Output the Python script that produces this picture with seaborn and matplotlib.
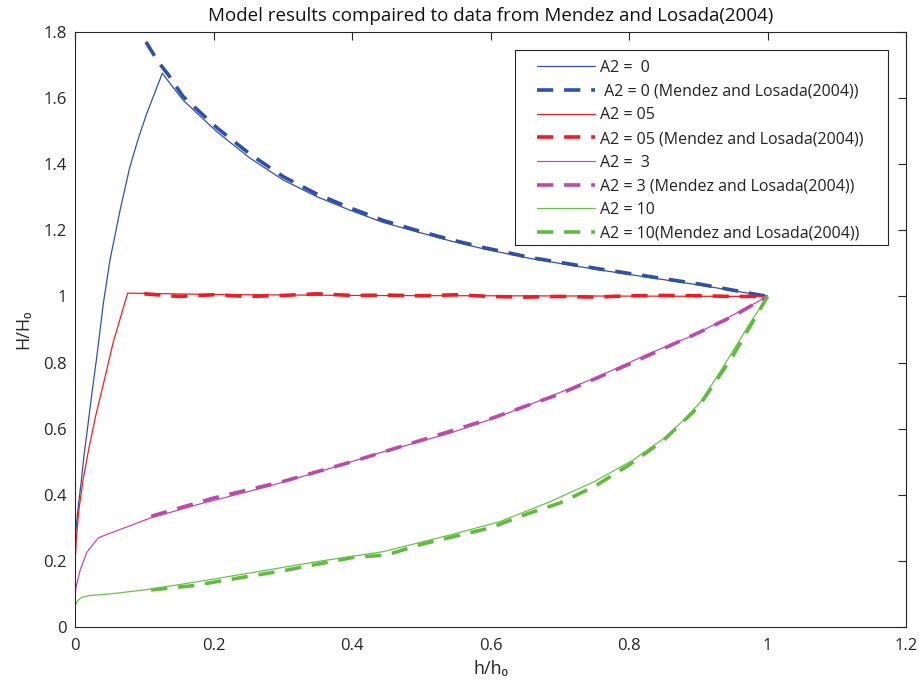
import matplotlib
matplotlib.use("Agg")
import matplotlib.pyplot as plt
from matplotlib.patches import Rectangle
import seaborn as sns
import pandas as pd

# ---- data ----
blue_model_x = [0, 0.002, 0.005, 0.009, 0.013, 0.018, 0.024, 0.031, 0.041, 0.0505, 0.065, 0.079,
                0.091, 0.103, 0.115, 0.126, 0.156, 0.205, 0.253, 0.301, 0.349, 0.397, 0.445,
                0.493, 0.542, 0.59, 0.657, 0.758, 0.903, 1.0]
blue_model_y = [0.26, 0.31, 0.37, 0.44, 0.52, 0.6, 0.7, 0.81, 0.98, 1.11, 1.26, 1.39,
                1.475, 1.55, 1.615, 1.675, 1.594, 1.498, 1.418, 1.352, 1.302, 1.261, 1.224,
                1.196, 1.168, 1.144, 1.115, 1.08, 1.034, 1.0]
blue_data_x = [0.1025, 0.12, 0.135, 0.156, 0.205, 0.253, 0.301, 0.349, 0.397, 0.445, 0.493, 0.542,
               0.59, 0.657, 0.758, 0.903, 1.0]
blue_data_y = [1.77, 1.71, 1.67, 1.605, 1.51, 1.43, 1.362, 1.31, 1.268, 1.23, 1.2, 1.172,
               1.148, 1.118, 1.083, 1.037, 1.0]

red_model_x = [0, 0.002, 0.006, 0.012, 0.02, 0.03, 0.041, 0.055, 0.076, 0.2, 0.4, 0.6, 0.8, 1.0]
red_model_y = [0.19, 0.27, 0.36, 0.45, 0.54, 0.64, 0.735, 0.86, 1.01, 1.006, 1.003, 1.002, 1.001, 1.0]
red_data_x = [0.1, 0.15, 0.2, 0.25, 0.3, 0.35, 0.4, 0.45, 0.5, 0.55, 0.6, 0.65, 0.7, 0.75,
              0.8, 0.85, 0.9, 0.95, 1.0]
red_data_y = [1.008, 1.0, 1.005, 1.0, 1.003, 1.008, 1.003, 1.004, 1.002, 1.005, 1.0, 0.998,
              1.0, 0.998, 1.002, 1.003, 1.002, 1.0, 1.0]

mag_model_x = [0, 0.0014, 0.0072, 0.0168, 0.0337, 0.108, 0.18, 0.277, 0.361, 0.445, 0.541, 0.614,
               0.686, 0.758, 0.830, 0.89, 0.946, 1.0]
mag_model_y = [0.09, 0.12, 0.17, 0.225, 0.270, 0.329, 0.372, 0.424, 0.475, 0.530, 0.586, 0.638,
               0.697, 0.76, 0.828, 0.88, 0.939, 1.0]
mag_data_x = [0.11, 0.2, 0.3, 0.4, 0.5, 0.6, 0.7, 0.8, 0.9, 0.95, 1.0]
mag_data_y = [0.335, 0.39, 0.44, 0.5, 0.565, 0.63, 0.705, 0.795, 0.89, 0.94, 1.0]

green_model_x = [0, 0.004, 0.01, 0.02, 0.05, 0.1, 0.15, 0.2, 0.277, 0.35, 0.445, 0.541, 0.614,
                 0.686, 0.75, 0.806, 0.85, 0.879, 0.903, 0.927, 0.951, 0.975, 1.0]
green_model_y = [0.065, 0.08, 0.09, 0.095, 0.1, 0.112, 0.128, 0.145, 0.172, 0.198, 0.228, 0.278,
                 0.319, 0.379, 0.44, 0.505, 0.57, 0.626, 0.68, 0.757, 0.838, 0.92, 1.0]
green_data_x = [0.11, 0.17, 0.25, 0.3, 0.35, 0.4, 0.45, 0.5, 0.55, 0.6, 0.65, 0.7, 0.75, 0.8,
                0.85, 0.9, 0.95, 1.0]
green_data_y = [0.112, 0.125, 0.153, 0.17, 0.19, 0.21, 0.218, 0.25, 0.275, 0.3, 0.34, 0.375,
                0.425, 0.49, 0.565, 0.665, 0.82, 1.0]

labels = ["A2 =  0", " A2 = 0 (Mendez and Losada(2004))",
          "A2 = 05", "A2 = 05 (Mendez and Losada(2004))",
          "A2 =  3", "A2 = 3 (Mendez and Losada(2004))",
          "A2 = 10", "A2 = 10(Mendez and Losada(2004))"]

x_ticks = [0, 0.2, 0.4, 0.6, 0.8, 1.0, 1.2]
x_ticklabels = ["0", "0.2", "0.4", "0.6", "0.8", "1", "1.2"]
y_ticks = [0, 0.2, 0.4, 0.6, 0.8, 1.0, 1.2, 1.4, 1.6, 1.8]
y_ticklabels = ["0", "0.2", "0.4", "0.6", "0.8", "1", "1.2", "1.4", "1.6", "1.8"]

# ---- style ----
sns.set_theme(style="white")
plt.rcParams["font.family"] = ["Open Sans", "DejaVu Sans"]

W, H = 919, 689
fig = plt.figure(figsize=(W / 100, H / 100), dpi=100)
ax = fig.add_axes([75 / W, 1 - 627 / H, (906 - 75) / W, (627 - 32) / H])

series = [
    (blue_model_x, blue_model_y, "#3350b0", "-", 0.9, labels[0]),
    (blue_data_x, blue_data_y, "#2f4fa8", "--", 2.6, labels[1]),
    (red_model_x, red_model_y, "#f02020", "-", 0.9, labels[2]),
    (red_data_x, red_data_y, "#f01c24", "--", 2.6, labels[3]),
    (mag_model_x, mag_model_y, "#c04bb0", "-", 0.9, labels[4]),
    (mag_data_x, mag_data_y, "#bb4aa8", "--", 2.6, labels[5]),
    (green_model_x, green_model_y, "#6cc24a", "-", 0.9, labels[6]),
    (green_data_x, green_data_y, "#62bb40", "--", 2.6, labels[7]),
]

for xs, ys, col, ls, lw, lab in series:
    df = pd.DataFrame({"x": xs, "y": ys})
    sns.lineplot(data=df, x="x", y="y", ax=ax, color=col, linewidth=lw,
                 sort=False, estimator=None, label=lab)
    line = ax.lines[-1]
    if ls == "--":
        line.set_dashes((4.5, 3.0))

ax.set_xlim(0, 1.2)
ax.set_ylim(0, 1.8)
ax.set_xticks(x_ticks)
ax.set_xticklabels(x_ticklabels)
ax.set_yticks(y_ticks)
ax.set_yticklabels(y_ticklabels)

for s in ax.spines.values():
    s.set_color("#262626")
    s.set_linewidth(0.8)
ax.tick_params(direction="in", length=6, width=0.8, colors="#262626",
               labelsize=12, top=True, right=True, pad=6)
ax.tick_params(axis="x", pad=8)

ax.set_xlabel("h/h\u2080", fontsize=13, color="#262626", labelpad=4)
ax.set_ylabel("H/H\u2080", fontsize=13, color="#262626", labelpad=8)
ax.set_title("Model results compaired to data from Mendez and Losada(2004)",
             fontsize=13.5, color="#111111", pad=8)

# legend (frame drawn separately to match the reference's padding)
leg = ax.legend(loc="upper left", bbox_to_anchor=(537 / W, 1 - 60 / H),
                bbox_transform=fig.transFigure, fontsize=11.5,
                frameon=False, handlelength=3.6, handletextpad=0.35,
                labelspacing=0.48, borderpad=0.0, borderaxespad=0.0)
for t in leg.get_texts():
    t.set_color("#222222")
leg.set_zorder(6)
frame = Rectangle((515 / W, 1 - 245 / H), (888 - 515) / W, (245 - 50) / H,
                  transform=fig.transFigure, facecolor="white",
                  edgecolor="#262626", linewidth=0.8, zorder=5, clip_on=False)
ax.add_patch(frame)

fig.savefig("out.png", dpi=100, facecolor="white")
